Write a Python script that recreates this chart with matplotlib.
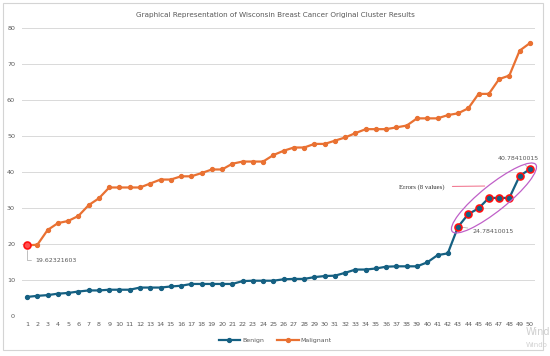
import matplotlib
matplotlib.use("Agg")
import matplotlib.pyplot as plt
import matplotlib.transforms as mtransforms
from matplotlib.patches import Ellipse, Rectangle
import numpy as np

# values
cases = list(range(1, 51))
benign = [5.3, 5.6, 5.8, 6.2, 6.4, 6.8, 7.1, 7.1, 7.3, 7.3,
          7.3, 7.9, 7.9, 7.9, 8.2, 8.4, 8.9, 8.9, 8.9, 8.9,
          8.9, 9.7, 9.8, 9.8, 9.8, 10.2, 10.3, 10.3, 10.8, 11.1,
          11.2, 12.0, 12.9, 12.9, 13.2, 13.7, 13.8, 13.8, 13.8, 14.9,
          16.9, 17.4, 24.78410015, 28.3, 29.9, 32.8, 32.8, 32.8, 38.9, 40.78410015]
malignant = [19.62321603, 19.8, 23.9, 25.8, 26.4, 27.8, 30.8, 32.7, 35.7, 35.7,
             35.7, 35.7, 36.8, 37.9, 37.9, 38.8, 38.8, 39.7, 40.7, 40.7,
             42.3, 42.9, 42.9, 42.9, 44.7, 45.9, 46.8, 46.8, 47.8, 47.8,
             48.7, 49.6, 50.8, 51.9, 51.9, 51.9, 52.4, 52.9, 54.9, 54.9,
             54.9, 55.8, 56.3, 57.7, 61.7, 61.7, 65.8, 66.8, 73.7, 75.8]
benign_errors = list(range(43, 51))   # case numbers flagged as errors
malignant_errors = [1]

title = "Graphical Representation of Wisconsin Breast Cancer Original Cluster Results"

blue = '#156082'
orange = '#E97132'
grey_txt = '#595959'

plt.rcParams['font.family'] = ['DejaVu Sans']

fig = plt.figure(figsize=(5.5, 3.56), dpi=100)
ax = fig.add_axes([22 / 550, 1 - 316 / 356, 513 / 550, 288 / 356])

x = np.array(cases)
b = np.array(benign)
m = np.array(malignant)

ax.plot(x, b, color=blue, lw=1.6, marker='o', ms=2.8, label='Benign', zorder=3)
ax.plot(x, m, color=orange, lw=1.6, marker='o', ms=2.8, label='Malignant', zorder=3)

bi = np.array(benign_errors) - 1
mi = np.array(malignant_errors) - 1
ax.plot(x[bi], b[bi], ls='none', marker='o', ms=5, mfc=blue, mec='#ff1010', mew=1.2, zorder=4)
ax.plot(x[mi], m[mi], ls='none', marker='o', ms=5, mfc='#ff5050', mec='#ff1010', mew=1.2, zorder=4)

ax.set_xlim(0.5, 50.5)
ax.set_ylim(0, 80)
ax.set_xticks(x)
ax.set_yticks(range(0, 81, 10))
ax.yaxis.grid(True, color='#d9d9d9', lw=0.7)
ax.set_axisbelow(True)
for s in ax.spines.values():
    s.set_visible(False)
ax.tick_params(axis='both', length=0, labelsize=4.6, labelcolor=grey_txt)
ax.tick_params(axis='y', pad=5)
ax.tick_params(axis='x', pad=4.3)

fig.text(0.5, 1 - 15 / 356, title, ha='center', va='center', fontsize=5.2, color=grey_txt)

# data labels
lab_kw = dict(fontsize=4.5, color=grey_txt, textcoords='offset pixels', va='center')
line_kw = dict(arrowstyle='-', color='#a6a6a6', lw=0.5)
ax.annotate(f"{malignant[0]:.8f}", xy=(1, malignant[0]), xytext=(8, -15), ha='left',
            arrowprops=dict(connectionstyle='angle,angleA=0,angleB=90,rad=0',
                            shrinkA=1, shrinkB=3, **line_kw), **lab_kw)
ax.annotate(f"{benign[42]:.8f}", xy=(43, benign[42]), xytext=(14, -4.5), ha='left',
            arrowprops=dict(shrinkA=1, shrinkB=3, **line_kw), **lab_kw)
ax.annotate(f"{benign[49]:.8f}", xy=(50, benign[49]), xytext=(-12, 11), ha='center',
            arrowprops=dict(shrinkA=1, shrinkB=3, **line_kw), **lab_kw)

# ellipse around the error points (built in pixel space)
p0 = ax.transData.transform((benign_errors[0], benign[benign_errors[0] - 1]))
p1 = ax.transData.transform((benign_errors[-1], benign[benign_errors[-1] - 1]))
c = (p0 + p1) / 2
d = p1 - p0
ell = Ellipse(c, np.hypot(*d) + 15, 26, angle=np.degrees(np.arctan2(d[1], d[0])),
              transform=mtransforms.IdentityTransform(), fill=False,
              ec='#c060c8', lw=0.9, clip_on=False, zorder=5)
ax.add_patch(ell)

ax.annotate("Errors (8 values)", xy=(45.6, 36.1), xytext=(37.2, 35.9),
            fontsize=4.9, family='Liberation Serif', color='#303030', va='center',
            arrowprops=dict(arrowstyle='-', color='#f06a86', lw=0.7, shrinkA=4, shrinkB=0))

fig.legend(loc='center', bbox_to_anchor=(275 / 550, 1 - 340 / 356), ncol=2, frameon=False,
           fontsize=4.5, labelcolor=grey_txt, handlelength=3.5, columnspacing=2.0,
           handletextpad=0.3)

fig.patches.append(Rectangle((3 / 550, 6 / 356), 540 / 550, 347 / 356, transform=fig.transFigure,
                             fill=False, ec='#d4d4d4', lw=0.8))
fig.text(526 / 550, 1 - 332 / 356, "Wind", fontsize=7, color='#cfcfcf', va='center')
fig.text(526 / 550, 1 - 345 / 356, "Windo", fontsize=5, color='#d2d2d2', va='center')

fig.savefig("out.png", dpi=100)
